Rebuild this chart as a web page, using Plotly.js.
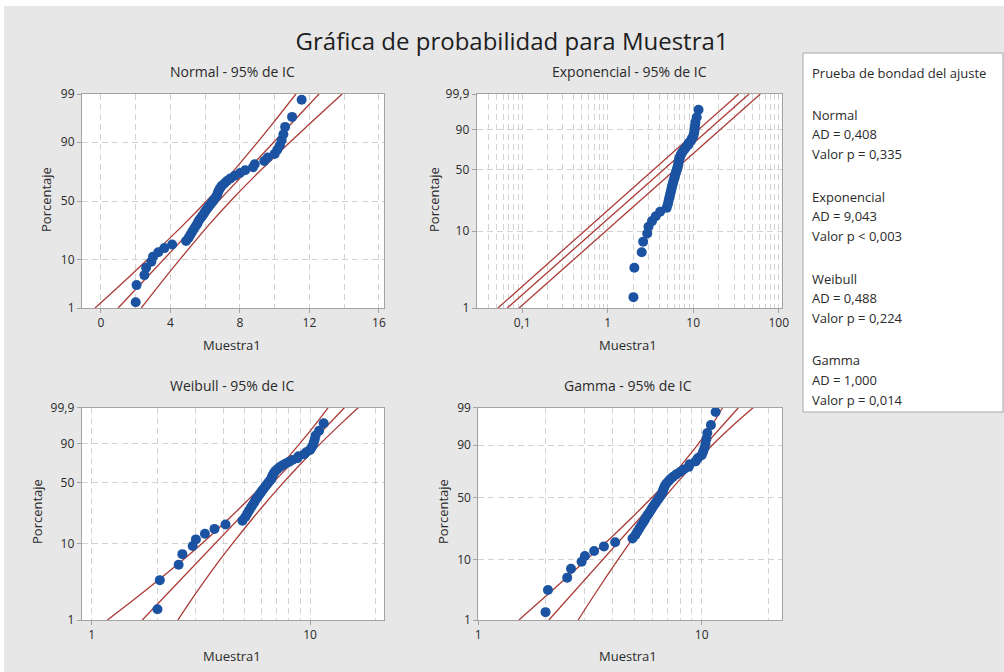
<!DOCTYPE html>
<html><head><meta charset="utf-8">
<script src="https://cdn.plot.ly/plotly-3.0.1.min.js"></script>
<style>html,body{margin:0;padding:0;background:#fff;}#chart{width:1004px;height:672px;}</style>
</head><body><div id="chart"></div>
<script>
// ---------------- data ----------------
const muestra1 = [2.0, 2.05, 2.5, 2.6, 2.9, 3.0, 3.3, 3.65, 4.1, 4.9,
  5.05, 5.15, 5.25, 5.35, 5.45, 5.55, 5.62, 5.72, 5.82, 5.92,
  6.0, 6.1, 6.2, 6.3, 6.4, 6.5, 6.6, 6.68, 6.72, 6.78,
  6.85, 6.95, 7.1, 7.25, 7.45, 7.7, 8.0, 8.3, 8.75, 8.85,
  9.4, 9.6, 10.0, 10.15, 10.3, 10.4, 10.5, 10.6, 11.0, 11.55];
const porcentaje = [1.39, 3.37, 5.36, 7.34, 9.33, 11.31, 13.29, 15.28, 17.26, 19.25,
  21.23, 23.21, 25.20, 27.18, 29.17, 31.15, 33.13, 35.12, 37.10, 39.09,
  41.07, 43.06, 45.04, 47.02, 49.01, 50.99, 52.98, 54.96, 56.94, 58.93,
  60.91, 62.90, 64.88, 66.87, 68.85, 70.83, 72.82, 74.80, 76.79, 78.77,
  80.75, 82.74, 84.72, 86.71, 88.69, 90.67, 92.66, 94.64, 96.63, 98.61];

// Normal fit and 95% CI
const normalFitPct = [1, 99];
const normalFitX = [0.99, 12.55];
const normalCiPct = [1, 5, 10, 30, 50, 70, 90, 95, 99];
const normalCiLow = [-0.34, 1.63, 2.65, 4.73, 6.08, 7.34, 9.02, 9.80, 11.22];
const normalCiHigh = [2.32, 3.74, 4.52, 6.20, 7.46, 8.81, 10.89, 11.92, 13.88];

// Exponential fit and 95% CI
const expPct = [1, 99.9];
const expFitX = [0.067, 45];
const expCiLow = [0.052, 34];
const expCiHigh = [0.092, 61];

// Weibull fit and 95% CI
const weibullFitPct = [1, 99.9];
const weibullFitX = [1.705, 14.36];
const weibullCiPct = [1, 2, 5, 10, 20, 30, 50, 70, 90, 99, 99.9];
const weibullCiLow = [1.18, 1.61, 2.39, 3.19, 4.22, 4.98, 6.22, 7.41, 8.99, 10.89, 12.1];
const weibullCiHigh = [2.48, 2.91, 3.65, 4.41, 5.42, 6.2, 7.56, 9.0, 11.18, 14.3, 16.6];

// Gamma fit and 95% CI
const gammaFitPct = [1, 99];
const gammaFitX = [2.07, 14.6];
const gammaCiPct = [1, 3, 10, 20, 30, 50, 70, 90, 97, 99];
const gammaCiLow = [1.52, 2.08, 3.05, 3.95, 4.66, 5.97, 7.4, 9.55, 11.25, 12.4];
const gammaCiHigh = [2.8, 3.35, 4.22, 4.97, 5.6, 6.8, 8.3, 11.13, 14.15, 17.0];

// tick labels
const yTicksNormal = [1, 10, 50, 90, 99];
const yTextNormal = ['1', '10', '50', '90', '99'];
const yTicksWeib = [1, 10, 50, 90, 99.9];
const yTextWeib = ['1', '10', '50', '90', '99,9'];
const yTicksGamma = [1, 10, 50, 90, 99];
const yTextGamma = ['1', '10', '50', '90', '99'];
const xTicksNormal = [0, 4, 8, 12, 16];
const xTicksExp = [0.1, 1, 10, 100];
const xTextExp = ['0,1', '1', '10', '100'];
const xTicksWeib = [1, 10];
const xTicksGamma = [1, 10];

const panelTitles = ['Normal - 95% de IC', 'Exponencial - 95% de IC', 'Weibull - 95% de IC', 'Gamma - 95% de IC'];
const gofDist = ['Normal', 'Exponencial', 'Weibull', 'Gamma'];
const gofAD = ['0,408', '9,043', '0,488', '1,000'];
const gofP = ['= 0,335', '< 0,003', '= 0,224', '= 0,014'];
const GAMMA_SHAPE = 7; // shape of the gamma probability scale

// ---------------- probability scales ----------------
function normInv(p) {
  const a = [-3.969683028665376e+01, 2.209460984245205e+02, -2.759285104469687e+02, 1.383577518672690e+02, -3.066479806614716e+01, 2.506628277459239e+00];
  const b = [-5.447609879822406e+01, 1.615858368580409e+02, -1.556989798598866e+02, 6.680131188771972e+01, -1.328068155288572e+01];
  const c = [-7.784894002430293e-03, -3.223964580411365e-01, -2.400758277161838e+00, -2.549671348584876e+00, 4.374664141464968e+00, 2.938163982698783e+00];
  const d = [7.784695709041462e-03, 3.224671290700398e-01, 2.445134137142996e+00, 3.754408661907416e+00];
  const pl = 0.02425, ph = 1 - pl;
  let q, r;
  if (p < pl) { q = Math.sqrt(-2 * Math.log(p)); return (((((c[0]*q+c[1])*q+c[2])*q+c[3])*q+c[4])*q+c[5]) / ((((d[0]*q+d[1])*q+d[2])*q+d[3])*q+1); }
  if (p > ph) { q = Math.sqrt(-2 * Math.log(1 - p)); return -(((((c[0]*q+c[1])*q+c[2])*q+c[3])*q+c[4])*q+c[5]) / ((((d[0]*q+d[1])*q+d[2])*q+d[3])*q+1); }
  q = p - 0.5; r = q * q;
  return (((((a[0]*r+a[1])*r+a[2])*r+a[3])*r+a[4])*r+a[5])*q / (((((b[0]*r+b[1])*r+b[2])*r+b[3])*r+b[4])*r+1);
}
const sNormal = pct => normInv(pct / 100);
const sWeib = pct => Math.log(-Math.log(1 - pct / 100));
const sGamma = pct => 3 * Math.log(1 - 1 / (9 * GAMMA_SHAPE) + normInv(pct / 100) / (3 * Math.sqrt(GAMMA_SHAPE)));

// ---------------- styling ----------------
const W = 1004, H = 672;
const FONT = 'Open Sans, Noto Sans, sans-serif';
const TXT = '#2a2a2a';
const PT_COLOR = '#1b53a2';
const LN_COLOR = '#aa3a35';
const GRID = '#d3d3d3';
const GRIDDASH = '6px,4px';

function hx(px) { return px / W; }
function vy(py) { return 1 - py / H; }

const traces = [];
function addPanel(n, sc, fitP, fitX, ciP, ciLow, ciHigh, ciShape) {
  const xa = 'x' + (n === 1 ? '' : n), ya = 'y' + (n === 1 ? '' : n);
  const lineBase = {type: 'scatter', mode: 'lines', xaxis: xa, yaxis: ya, hoverinfo: 'skip', showlegend: false};
  traces.push(Object.assign({}, lineBase, {x: fitX, y: fitP.map(sc), line: {color: LN_COLOR, width: 1.3}}));
  traces.push(Object.assign({}, lineBase, {x: ciLow, y: ciP.map(sc), line: {color: LN_COLOR, width: 1.3, shape: ciShape, smoothing: 1}}));
  traces.push(Object.assign({}, lineBase, {x: ciHigh, y: ciP.map(sc), line: {color: LN_COLOR, width: 1.3, shape: ciShape, smoothing: 1}}));
  traces.push({type: 'scatter', mode: 'markers', xaxis: xa, yaxis: ya, x: muestra1, y: porcentaje.map(sc),
    marker: {color: PT_COLOR, size: 10, line: {width: 0}}, hoverinfo: 'skip', showlegend: false, cliponaxis: false});
}
addPanel(1, sNormal, normalFitPct, normalFitX, normalCiPct, normalCiLow, normalCiHigh, 'spline');
addPanel(2, sWeib, expPct, expFitX, expPct, expCiLow, expCiHigh, 'linear');
addPanel(3, sWeib, weibullFitPct, weibullFitX, weibullCiPct, weibullCiLow, weibullCiHigh, 'spline');
addPanel(4, sGamma, gammaFitPct, gammaFitX, gammaCiPct, gammaCiLow, gammaCiHigh, 'spline');

const axBase = {
  showline: true, mirror: true, linecolor: '#a3a3a3', linewidth: 1,
  ticks: 'outside', ticklen: 4, tickcolor: '#a3a3a3',
  showgrid: true, gridcolor: GRID, griddash: GRIDDASH, gridwidth: 1,
  zeroline: false, fixedrange: true,
  tickfont: {family: FONT, size: 12, color: TXT}
};
const minorGrid = {showgrid: true, gridcolor: GRID, griddash: GRIDDASH, gridwidth: 1, ticks: ''};
function ax(extra) { return Object.assign({}, axBase, extra); }

const rowTop = [vy(308), vy(94)];
const rowBot = [vy(620), vy(407.7)];

const layout = {
  width: W, height: H,
  margin: {l: 0, r: 0, t: 0, b: 0},
  paper_bgcolor: '#e7e7e7', plot_bgcolor: '#ffffff',
  showlegend: false, hovermode: false,
  title: {text: 'Gráfica de probabilidad para Muestra1', x: 0.51, xanchor: 'center', y: vy(42), yanchor: 'middle', yref: 'container',
    font: {family: FONT, size: 24, color: '#1e1e1e'}},
  xaxis: ax({domain: [hx(82), hx(384)], anchor: 'y', range: [-1.09, 16.29], tickmode: 'array', tickvals: xTicksNormal,
    minor: Object.assign({dtick: 2, tick0: 0}, minorGrid)}),
  yaxis: ax({domain: rowTop, anchor: 'x', range: [sNormal(1), sNormal(99)], tickmode: 'array', tickvals: yTicksNormal.map(sNormal), ticktext: yTextNormal}),
  xaxis2: ax({domain: [hx(476.7), hx(781.7)], anchor: 'y2', type: 'log', range: [-1.532, 2.035], tickmode: 'array', tickvals: xTicksExp, ticktext: xTextExp,
    minor: Object.assign({dtick: 'D1'}, minorGrid)}),
  yaxis2: ax({domain: rowTop, anchor: 'x2', range: [sWeib(1), sWeib(99.9)], tickmode: 'array', tickvals: yTicksWeib.map(sWeib), ticktext: yTextWeib}),
  xaxis3: ax({domain: [hx(81.7), hx(384.3)], anchor: 'y3', type: 'log', range: [-0.046, 1.34], tickmode: 'array', tickvals: xTicksWeib, ticktext: xTicksWeib.map(String),
    minor: Object.assign({dtick: 'D1'}, minorGrid)}),
  yaxis3: ax({domain: rowBot, anchor: 'x3', range: [sWeib(1), sWeib(99.9)], tickmode: 'array', tickvals: yTicksWeib.map(sWeib), ticktext: yTextWeib}),
  xaxis4: ax({domain: [hx(478.3), hx(782.3)], anchor: 'y4', type: 'log', range: [0, 1.361], tickmode: 'array', tickvals: xTicksGamma, ticktext: xTicksGamma.map(String),
    minor: Object.assign({dtick: 'D1'}, minorGrid)}),
  yaxis4: ax({domain: rowBot, anchor: 'x4', range: [sGamma(1), sGamma(99)], tickmode: 'array', tickvals: yTicksGamma.map(sGamma), ticktext: yTextGamma}),
  shapes: [
    {type: 'rect', xref: 'paper', yref: 'paper', x0: 0, x1: 1, y0: vy(6), y1: 1, fillcolor: '#ffffff', line: {width: 0}, layer: 'below'},
    {type: 'rect', xref: 'paper', yref: 'paper', x0: 0, x1: hx(4), y0: 0, y1: 1, fillcolor: '#ffffff', line: {width: 0}, layer: 'below'},
    {type: 'rect', xref: 'paper', yref: 'paper', x0: hx(803), x1: hx(1003), y0: vy(412), y1: vy(53), fillcolor: '#ffffff', line: {color: '#a8a8a8', width: 1}, layer: 'below'}
  ],
  annotations: []
};

function note(text, px, py, opts) {
  layout.annotations.push(Object.assign({text: text, xref: 'paper', yref: 'paper', x: hx(px), y: vy(py),
    xanchor: 'center', yanchor: 'middle', showarrow: false, font: {family: FONT, size: 13, color: TXT}}, opts || {}));
}
// panel titles
const titlePos = [[232.5, 72], [629, 72], [232.5, 385], [628, 385]];
panelTitles.forEach((t, i) => note(t, titlePos[i][0], titlePos[i][1], {font: {family: FONT, size: 14, color: TXT}}));
// axis titles
const xTitlePos = [[232, 345], [628, 345], [232, 656], [628, 656]];
xTitlePos.forEach(p => note('Muestra1', p[0], p[1]));
const yTitlePos = [[46, 200], [434, 200], [37, 512], [443, 512]];
yTitlePos.forEach(p => note('Porcentaje', p[0], p[1], {textangle: -90}));
// goodness-of-fit box
note('Prueba de bondad del ajuste', 810, 73, {xanchor: 'left'});
const groupTop = [114.5, 196.5, 278.5, 360];
gofDist.forEach((d, i) => {
  note(d, 810, groupTop[i], {xanchor: 'left'});
  note('AD = ' + gofAD[i], 810, groupTop[i] + 19.5, {xanchor: 'left'});
  note('Valor p ' + gofP[i], 810, groupTop[i] + 39.5, {xanchor: 'left'});
});

Plotly.newPlot('chart', traces, layout, {displayModeBar: false, staticPlot: true});
</script>
</body></html>
